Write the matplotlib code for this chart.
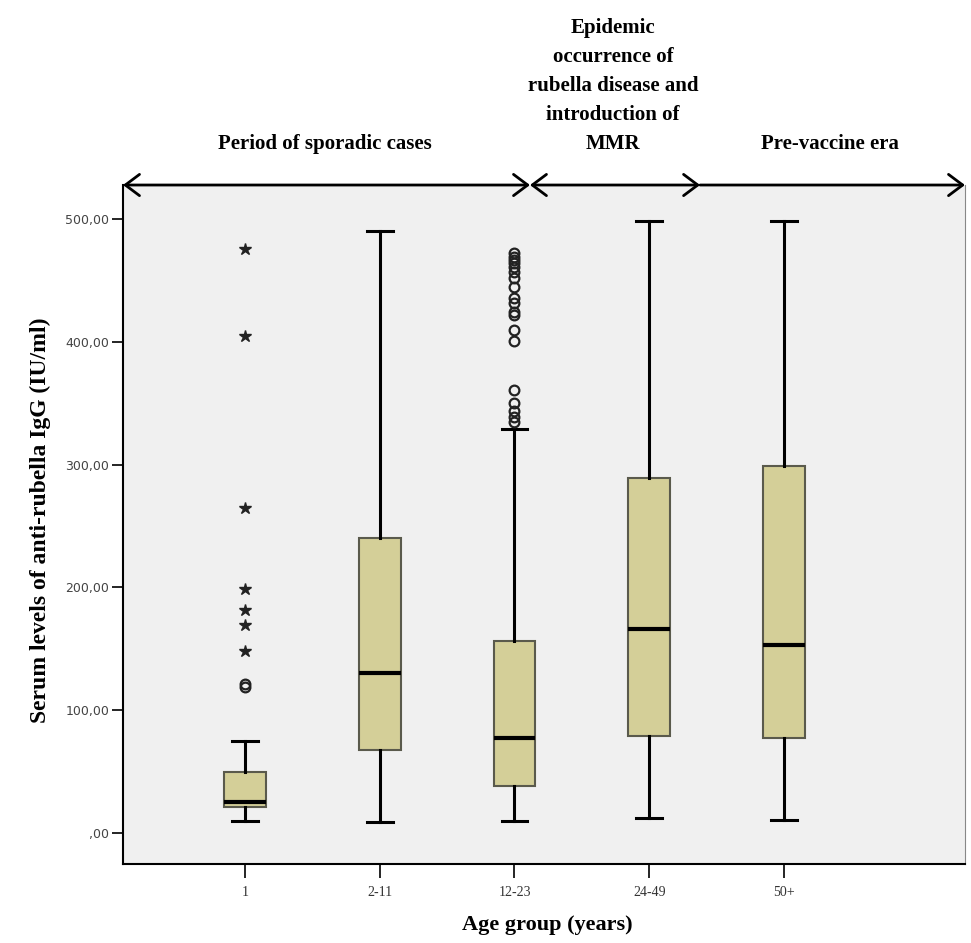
import matplotlib
matplotlib.use("Agg")
import matplotlib.pyplot as plt
from matplotlib.ticker import FuncFormatter

# values (IU/ml)
groups = ["1", "2-11", "12-23", "24-49", "50+"]
whisker_low = [10, 9, 10, 12, 11]
q1 = [21, 68, 38, 79, 77]
median = [25, 130, 77, 166, 153]
q3 = [50, 240, 156, 289, 299]
whisker_high = [75, 490, 329, 498, 498]
mild_outliers = [
    [119, 121],
    [],
    [335, 339, 344, 350, 361, 401, 410, 422, 424, 432, 436, 445,
     452, 457, 461, 464, 467, 469, 472],
    [],
    [],
]
extreme_outliers = [[148, 169, 182, 199, 265, 405, 476], [], [], [], []]

periods = [
    "Period of sporadic cases",
    "Epidemic\noccurrence of\nrubella disease and\nintroduction of\nMMR",
    "Pre-vaccine era",
]

# layout of the period arrows (in x data units)
period_bounds = [(0.095, 3.115), (3.115, 4.377), (4.377, 6.343)]
period_arrows = ["<->", "<->", "->"]
period_text_x = [1.59, 3.73, 5.34]

serif = "Liberation Serif"

fig = plt.figure(figsize=(9.71, 9.43), dpi=100)
ax = fig.add_axes([0.1267, 0.0838, 0.8671, 0.72])
ax.set_facecolor("#f0f0f0")

positions = list(range(1, len(groups) + 1))
stats = []
for i, g in enumerate(groups):
    stats.append(dict(
        label=g,
        whislo=whisker_low[i],
        q1=q1[i],
        med=median[i],
        q3=q3[i],
        whishi=whisker_high[i],
        fliers=mild_outliers[i],
    ))

ax.bxp(
    stats,
    positions=positions,
    widths=0.31,
    capwidths=0.19,
    patch_artist=True,
    boxprops=dict(facecolor="#d4cf98", edgecolor="#5a5a4c", linewidth=1.5),
    medianprops=dict(color="black", linewidth=3),
    whiskerprops=dict(color="black", linewidth=2.2),
    capprops=dict(color="black", linewidth=2.2),
    flierprops=dict(marker="o", markersize=7, markerfacecolor="none",
                    markeredgecolor="#222222", markeredgewidth=1.6),
)

for i, vals in enumerate(extreme_outliers):
    if vals:
        ax.plot([positions[i]] * len(vals), vals, linestyle="none",
                marker="*", markersize=9, color="#222222")

ax.set_xlim(0.095, 6.343)
ax.set_ylim(-25.2, 527.7)
ax.set_yticks([0, 100, 200, 300, 400, 500])
ax.yaxis.set_major_formatter(
    FuncFormatter(lambda v, p: ",00" if v == 0 else f"{v:.0f},00"))
ax.set_xticks(positions)
ax.set_xticklabels(groups, fontfamily=serif, fontsize=10, color="#333333")
ax.tick_params(axis="y", labelsize=9, labelcolor="#444444", length=8,
               width=1.2, pad=2)
ax.tick_params(axis="x", length=10, width=1.2, pad=6)

ax.spines["top"].set_visible(False)
ax.spines["right"].set_color("#888888")
ax.spines["left"].set_linewidth(1.5)
ax.spines["bottom"].set_linewidth(1.5)

# period arrows along the top edge
xtrans = ax.get_xaxis_transform()
for (x0, x1), style in zip(period_bounds, period_arrows):
    ax.annotate(
        "", xy=(x1, 1.0), xytext=(x0, 1.0), xycoords=xtrans, textcoords=xtrans,
        arrowprops=dict(arrowstyle=style + ",head_length=0.6,head_width=0.45",
                        color="black", lw=2, shrinkA=0, shrinkB=0,
                        mutation_scale=17),
        annotation_clip=False,
    )

for label, x in zip(periods, period_text_x):
    ax.text(x, 1.045, label, transform=xtrans, ha="center", va="bottom",
            fontfamily=serif, fontweight="bold", fontsize=15, linespacing=1.6)

fig.text(40 / 971, 1 - 520 / 943, "Serum levels of anti-rubella IgG (IU/ml)",
         rotation=90, ha="center", va="center", fontfamily=serif,
         fontweight="bold", fontsize=17)
fig.text(547 / 971, 1 - 925 / 943, "Age group (years)", ha="center",
         va="center", fontfamily=serif, fontweight="bold", fontsize=16)

fig.savefig("out.png", dpi=100, facecolor="white")
